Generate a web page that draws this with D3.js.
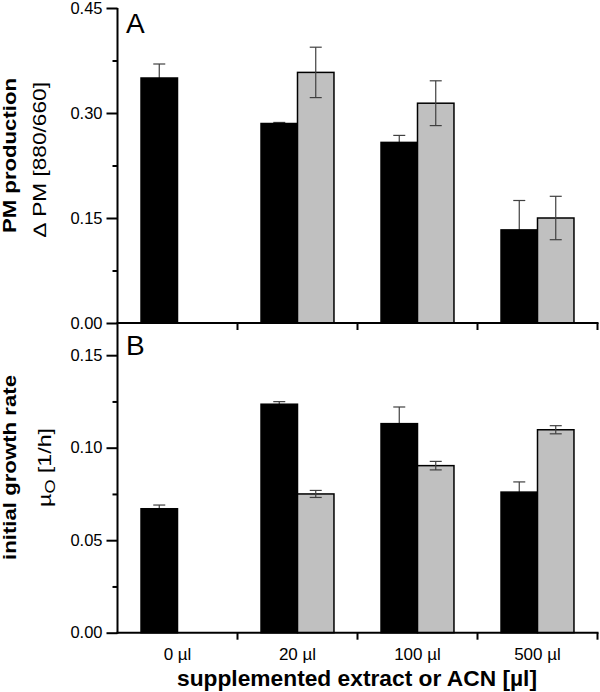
<!DOCTYPE html>
<html><head><meta charset="utf-8">
<script src="https://cdn.jsdelivr.net/npm/d3@7"></script>
<style>
body{margin:0;background:#fff;}
text{font-family:"Liberation Sans",Arial,sans-serif;}
</style></head>
<body><svg id="c" width="600" height="692"></svg>
<script>
const categories = ["0 µl","20 µl","100 µl","500 µl"];
const series = ["extract","ACN"];
// Panel A: PM production
const pmExtract = [0.350, 0.285, 0.258, 0.133];
const pmExtractErr = [0.020, 0.0015, 0.010, 0.042];
const pmACN = [null, 0.358, 0.314, 0.150];
const pmACNErr = [null, 0.036, 0.032, 0.031];
// Panel B: initial growth rate
const grExtract = [0.067, 0.1235, 0.113, 0.076];
const grExtractErr = [0.002, 0.0014, 0.009, 0.0055];
const grACN = [null, 0.075, 0.0903, 0.1097];
const grACNErr = [null, 0.0019, 0.0023, 0.0022];
const ticksA = [0, 0.15, 0.30, 0.45];
const minorA = [0.075, 0.225, 0.375];
const ticksB = [0, 0.05, 0.10, 0.15];
const minorB = [0.025, 0.075, 0.125];

const svg = d3.select("#c");
const x0 = 117.5, x1 = 597.5;
const x = d3.scaleBand().domain(categories).range([x0, x1]).paddingInner(0).paddingOuter(0);
const xs = d3.scaleBand().domain(series).range([0, x.bandwidth()]).paddingInner(0).paddingOuter(0.645);
const colors = {extract:"#000000", ACN:"#c0c0c0"};

function panel(cfg){
  const y = d3.scaleLinear().domain(cfg.domain).range(cfg.range);
  const g = svg.append("g");
  const rows = [];
  categories.forEach((c,i)=>{
    rows.push({c, s:"extract", v:cfg.ext[i], e:cfg.extErr[i]});
    if (cfg.acn[i]!=null) rows.push({c, s:"ACN", v:cfg.acn[i], e:cfg.acnErr[i]});
  });
  const drawErr = (sel) => {
    sel.each(function(d){
      const cx = x(d.c)+xs(d.s)+xs.bandwidth()/2;
      const gg = d3.select(this);
      gg.append("line").attr("x1",cx).attr("x2",cx).attr("y1",y(d.v+d.e)).attr("y2",y(d.v-d.e));
      gg.append("line").attr("x1",cx-6).attr("x2",cx+6).attr("y1",y(d.v+d.e)).attr("y2",y(d.v+d.e));
      gg.append("line").attr("x1",cx-6).attr("x2",cx+6).attr("y1",y(d.v-d.e)).attr("y2",y(d.v-d.e));
    });
  };
  g.append("g").attr("stroke","#404040").attr("stroke-width",1.2)
    .selectAll("g").data(rows.filter(r=>r.s==="extract")).join("g").call(drawErr);
  g.append("g").selectAll("rect").data(rows).join("rect")
    .attr("x", d=>x(d.c)+xs(d.s))
    .attr("width", xs.bandwidth())
    .attr("y", d=>y(d.v))
    .attr("height", d=>y(0)-y(d.v))
    .attr("fill", d=>colors[d.s])
    .attr("stroke","#000").attr("stroke-width",1.5);
  g.append("g").attr("stroke","#404040").attr("stroke-width",1.2)
    .selectAll("g").data(rows.filter(r=>r.s==="ACN")).join("g").call(drawErr);

  // y axis
  const ya = g.append("g").attr("transform",`translate(${x0},0)`)
    .call(d3.axisLeft(y).tickValues(cfg.ticks).tickFormat(d3.format(".2f")).tickSize(11).tickPadding(4));
  ya.select(".domain").remove();
  ya.selectAll(".tick line").attr("stroke","#000").attr("stroke-width",2);
  ya.selectAll(".tick text").attr("font-size",16.5).attr("fill","#000").attr("font-family","Liberation Sans, Arial, sans-serif");
  const ym = g.append("g").attr("transform",`translate(${x0},0)`)
    .call(d3.axisLeft(y).tickValues(cfg.minor).tickFormat("").tickSize(5));
  ym.select(".domain").remove();
  ym.selectAll(".tick line").attr("stroke","#000").attr("stroke-width",2);
  g.append("line").attr("x1",x0).attr("x2",x0).attr("y1",cfg.range[1]).attr("y2",cfg.range[0]+1)
    .attr("stroke","#000").attr("stroke-width",2);

  // x axis
  const bounds = categories.map(c=>x(c)+x.bandwidth());
  g.append("g").selectAll("line").data(bounds).join("line")
    .attr("x1",d=>d).attr("x2",d=>d).attr("y1",y(0)).attr("y2",y(0)+7)
    .attr("stroke","#000").attr("stroke-width",2);
  g.append("line").attr("x1",x0-1).attr("x2",x1+1).attr("y1",y(0)).attr("y2",y(0))
    .attr("stroke","#000").attr("stroke-width",2);

  // panel letter
  g.append("text").attr("x",126).attr("y",cfg.letterY).attr("font-size",28).text(cfg.letter);

  // y labels
  g.append("text").attr("transform",`translate(16,${cfg.c1}) rotate(-90)`).attr("text-anchor","middle")
    .attr("font-size",19).attr("font-weight","bold")
    .attr("textLength",cfg.len1).attr("lengthAdjust","spacingAndGlyphs").text(cfg.title);
  const t2 = g.append("text").attr("transform",`translate(${cfg.x2},${cfg.c2}) rotate(-90)`).attr("text-anchor","middle")
    .attr("font-size",18).attr("textLength",cfg.len2).attr("lengthAdjust","spacingAndGlyphs");
  cfg.sub(t2);
  return y;
}

panel({domain:[0,0.45], range:[323,8], ext:pmExtract, extErr:pmExtractErr, acn:pmACN, acnErr:pmACNErr,
  ticks:ticksA, minor:minorA, letter:"A", letterY:33, title:"PM production",
  c1:155.5, len1:155, x2:46, c2:159.5, len2:155,
  sub: t=>t.text("∆ PM [880/660]")});
panel({domain:[0,0.1674], range:[632.7,323], ext:grExtract, extErr:grExtractErr, acn:grACN, acnErr:grACNErr,
  ticks:ticksB, minor:minorB, letter:"B", letterY:355, title:"initial growth rate",
  c1:467.5, len1:185, x2:51, c2:467.5, len2:79,
  sub: t=>{ t.append("tspan").text("µ"); t.append("tspan").attr("font-size",14).attr("dy",4).text("O");
            t.append("tspan").attr("dy",-4).text(" [1/h]"); }});

// x tick labels
svg.append("g").selectAll("text").data(categories).join("text")
  .attr("x",d=>x(d)+x.bandwidth()/2).attr("y",660).attr("text-anchor","middle")
  .attr("font-size",17).text(d=>d);
svg.append("text").attr("x",357).attr("y",686).attr("text-anchor","middle")
  .attr("font-size",21.5).attr("font-weight","bold")
  .attr("textLength",360).attr("lengthAdjust","spacingAndGlyphs")
  .text("supplemented extract or ACN [µl]");
</script></body></html>
